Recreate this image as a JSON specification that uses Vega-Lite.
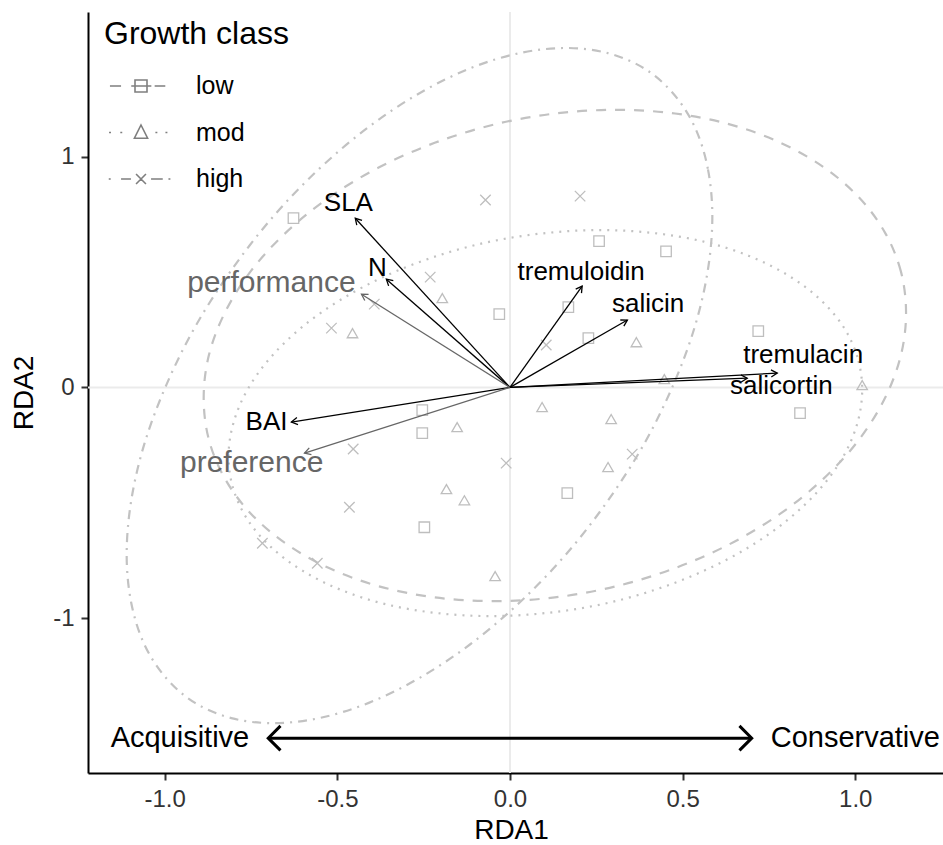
{
  "$schema": "https://vega.github.io/schema/vega-lite/v6.json",
  "width": 855,
  "height": 761,
  "autosize": {"type": "none"},
  "padding": {"left": 88, "top": 12, "right": 0, "bottom": 72},
  "background": "white",
  "config": {
    "font": "Liberation Sans",
    "view": {"stroke": null},
    "axis": {
      "grid": false,
      "domainColor": "black",
      "domainWidth": 2,
      "tickColor": "#333333",
      "tickWidth": 2,
      "tickSize": 7,
      "labelFontSize": 24,
      "labelColor": "#333333",
      "labelPadding": 7,
      "labelFlush": false,
      "titleFontSize": 28,
      "titleFontWeight": "normal",
      "titleColor": "black"
    }
  },
  "resolve": {"scale": {"shape": "independent"}, "legend": {"shape": "independent"}},
  "datasets": {
    "samples": [
      {"growth": "low", "x": -0.627, "y": 0.734},
      {"growth": "low", "x": -0.031, "y": 0.318},
      {"growth": "low", "x": -0.254, "y": -0.098},
      {"growth": "low", "x": -0.254, "y": -0.198},
      {"growth": "low", "x": -0.248, "y": -0.606},
      {"growth": "low", "x": 0.258, "y": 0.634},
      {"growth": "low", "x": 0.452, "y": 0.59},
      {"growth": "low", "x": 0.169, "y": 0.348},
      {"growth": "low", "x": 0.227, "y": 0.214},
      {"growth": "low", "x": 0.719, "y": 0.244},
      {"growth": "low", "x": 0.84, "y": -0.111},
      {"growth": "low", "x": 0.166, "y": -0.458},
      {"growth": "mod", "x": -0.196, "y": 0.387},
      {"growth": "mod", "x": -0.456, "y": 0.235},
      {"growth": "mod", "x": -0.153, "y": -0.172},
      {"growth": "mod", "x": -0.184, "y": -0.441},
      {"growth": "mod", "x": -0.132, "y": -0.489},
      {"growth": "mod", "x": -0.043, "y": -0.818},
      {"growth": "mod", "x": 0.366, "y": 0.196},
      {"growth": "mod", "x": 0.447, "y": 0.036},
      {"growth": "mod", "x": 1.02, "y": 0.01},
      {"growth": "mod", "x": 0.093, "y": -0.085},
      {"growth": "mod", "x": 0.293, "y": -0.137},
      {"growth": "mod", "x": 0.284, "y": -0.345},
      {"growth": "high", "x": -0.071, "y": 0.812},
      {"growth": "high", "x": -0.231, "y": 0.478},
      {"growth": "high", "x": -0.393, "y": 0.361},
      {"growth": "high", "x": -0.517, "y": 0.257},
      {"growth": "high", "x": -0.454, "y": -0.267},
      {"growth": "high", "x": -0.011, "y": -0.328},
      {"growth": "high", "x": -0.465, "y": -0.519},
      {"growth": "high", "x": -0.717, "y": -0.675},
      {"growth": "high", "x": -0.558, "y": -0.762},
      {"growth": "high", "x": 0.203, "y": 0.829},
      {"growth": "high", "x": 0.105, "y": 0.184},
      {"growth": "high", "x": 0.354, "y": -0.289}
    ],
    "ellipses": [
      {"growth": "low", "i": 0, "x": 1.147, "y": 0.323},
      {"growth": "low", "i": 1, "x": 1.132, "y": 0.503},
      {"growth": "low", "i": 2, "x": 1.086, "y": 0.671},
      {"growth": "low", "i": 3, "x": 1.011, "y": 0.823},
      {"growth": "low", "i": 4, "x": 0.909, "y": 0.954},
      {"growth": "low", "i": 5, "x": 0.784, "y": 1.06},
      {"growth": "low", "i": 6, "x": 0.639, "y": 1.139},
      {"growth": "low", "i": 7, "x": 0.478, "y": 1.187},
      {"growth": "low", "i": 8, "x": 0.307, "y": 1.203},
      {"growth": "low", "i": 9, "x": 0.13, "y": 1.187},
      {"growth": "low", "i": 10, "x": -0.047, "y": 1.139},
      {"growth": "low", "i": 11, "x": -0.218, "y": 1.06},
      {"growth": "low", "i": 12, "x": -0.379, "y": 0.954},
      {"growth": "low", "i": 13, "x": -0.524, "y": 0.823},
      {"growth": "low", "i": 14, "x": -0.649, "y": 0.671},
      {"growth": "low", "i": 15, "x": -0.751, "y": 0.503},
      {"growth": "low", "i": 16, "x": -0.826, "y": 0.323},
      {"growth": "low", "i": 17, "x": -0.872, "y": 0.139},
      {"growth": "low", "i": 18, "x": -0.887, "y": -0.046},
      {"growth": "low", "i": 19, "x": -0.872, "y": -0.226},
      {"growth": "low", "i": 20, "x": -0.826, "y": -0.394},
      {"growth": "low", "i": 21, "x": -0.751, "y": -0.546},
      {"growth": "low", "i": 22, "x": -0.649, "y": -0.677},
      {"growth": "low", "i": 23, "x": -0.524, "y": -0.783},
      {"growth": "low", "i": 24, "x": -0.379, "y": -0.862},
      {"growth": "low", "i": 25, "x": -0.218, "y": -0.91},
      {"growth": "low", "i": 26, "x": -0.047, "y": -0.926},
      {"growth": "low", "i": 27, "x": 0.13, "y": -0.91},
      {"growth": "low", "i": 28, "x": 0.307, "y": -0.862},
      {"growth": "low", "i": 29, "x": 0.478, "y": -0.783},
      {"growth": "low", "i": 30, "x": 0.639, "y": -0.677},
      {"growth": "low", "i": 31, "x": 0.784, "y": -0.546},
      {"growth": "low", "i": 32, "x": 0.909, "y": -0.394},
      {"growth": "low", "i": 33, "x": 1.011, "y": -0.226},
      {"growth": "low", "i": 34, "x": 1.086, "y": -0.046},
      {"growth": "low", "i": 35, "x": 1.132, "y": 0.139},
      {"growth": "mod", "i": 0, "x": 1.02, "y": -0.009},
      {"growth": "mod", "i": 1, "x": 1.006, "y": 0.132},
      {"growth": "mod", "i": 2, "x": 0.965, "y": 0.264},
      {"growth": "mod", "i": 3, "x": 0.897, "y": 0.383},
      {"growth": "mod", "i": 4, "x": 0.805, "y": 0.486},
      {"growth": "mod", "i": 5, "x": 0.692, "y": 0.57},
      {"growth": "mod", "i": 6, "x": 0.561, "y": 0.632},
      {"growth": "mod", "i": 7, "x": 0.416, "y": 0.669},
      {"growth": "mod", "i": 8, "x": 0.262, "y": 0.682},
      {"growth": "mod", "i": 9, "x": 0.103, "y": 0.669},
      {"growth": "mod", "i": 10, "x": -0.057, "y": 0.632},
      {"growth": "mod", "i": 11, "x": -0.211, "y": 0.57},
      {"growth": "mod", "i": 12, "x": -0.356, "y": 0.486},
      {"growth": "mod", "i": 13, "x": -0.487, "y": 0.383},
      {"growth": "mod", "i": 14, "x": -0.6, "y": 0.264},
      {"growth": "mod", "i": 15, "x": -0.692, "y": 0.132},
      {"growth": "mod", "i": 16, "x": -0.76, "y": -0.009},
      {"growth": "mod", "i": 17, "x": -0.801, "y": -0.155},
      {"growth": "mod", "i": 18, "x": -0.815, "y": -0.3},
      {"growth": "mod", "i": 19, "x": -0.801, "y": -0.441},
      {"growth": "mod", "i": 20, "x": -0.76, "y": -0.573},
      {"growth": "mod", "i": 21, "x": -0.692, "y": -0.692},
      {"growth": "mod", "i": 22, "x": -0.6, "y": -0.795},
      {"growth": "mod", "i": 23, "x": -0.487, "y": -0.879},
      {"growth": "mod", "i": 24, "x": -0.356, "y": -0.941},
      {"growth": "mod", "i": 25, "x": -0.211, "y": -0.978},
      {"growth": "mod", "i": 26, "x": -0.057, "y": -0.991},
      {"growth": "mod", "i": 27, "x": 0.103, "y": -0.978},
      {"growth": "mod", "i": 28, "x": 0.262, "y": -0.941},
      {"growth": "mod", "i": 29, "x": 0.416, "y": -0.879},
      {"growth": "mod", "i": 30, "x": 0.561, "y": -0.795},
      {"growth": "mod", "i": 31, "x": 0.692, "y": -0.692},
      {"growth": "mod", "i": 32, "x": 0.805, "y": -0.573},
      {"growth": "mod", "i": 33, "x": 0.897, "y": -0.441},
      {"growth": "mod", "i": 34, "x": 0.965, "y": -0.3},
      {"growth": "mod", "i": 35, "x": 1.006, "y": -0.155},
      {"growth": "high", "i": 0, "x": 0.586, "y": 0.74},
      {"growth": "high", "i": 1, "x": 0.573, "y": 0.948},
      {"growth": "high", "i": 2, "x": 0.535, "y": 1.129},
      {"growth": "high", "i": 3, "x": 0.472, "y": 1.275},
      {"growth": "high", "i": 4, "x": 0.388, "y": 1.383},
      {"growth": "high", "i": 5, "x": 0.283, "y": 1.449},
      {"growth": "high", "i": 6, "x": 0.162, "y": 1.471},
      {"growth": "high", "i": 7, "x": 0.028, "y": 1.449},
      {"growth": "high", "i": 8, "x": -0.115, "y": 1.383},
      {"growth": "high", "i": 9, "x": -0.262, "y": 1.275},
      {"growth": "high", "i": 10, "x": -0.409, "y": 1.129},
      {"growth": "high", "i": 11, "x": -0.552, "y": 0.948},
      {"growth": "high", "i": 12, "x": -0.686, "y": 0.74},
      {"growth": "high", "i": 13, "x": -0.807, "y": 0.508},
      {"growth": "high", "i": 14, "x": -0.912, "y": 0.262},
      {"growth": "high", "i": 15, "x": -0.996, "y": 0.008},
      {"growth": "high", "i": 16, "x": -1.059, "y": -0.246},
      {"growth": "high", "i": 17, "x": -1.097, "y": -0.492},
      {"growth": "high", "i": 18, "x": -1.11, "y": -0.724},
      {"growth": "high", "i": 19, "x": -1.097, "y": -0.932},
      {"growth": "high", "i": 20, "x": -1.059, "y": -1.113},
      {"growth": "high", "i": 21, "x": -0.996, "y": -1.259},
      {"growth": "high", "i": 22, "x": -0.912, "y": -1.367},
      {"growth": "high", "i": 23, "x": -0.807, "y": -1.433},
      {"growth": "high", "i": 24, "x": -0.686, "y": -1.455},
      {"growth": "high", "i": 25, "x": -0.552, "y": -1.433},
      {"growth": "high", "i": 26, "x": -0.409, "y": -1.367},
      {"growth": "high", "i": 27, "x": -0.262, "y": -1.259},
      {"growth": "high", "i": 28, "x": -0.115, "y": -1.113},
      {"growth": "high", "i": 29, "x": 0.028, "y": -0.932},
      {"growth": "high", "i": 30, "x": 0.162, "y": -0.724},
      {"growth": "high", "i": 31, "x": 0.283, "y": -0.492},
      {"growth": "high", "i": 32, "x": 0.388, "y": -0.246},
      {"growth": "high", "i": 33, "x": 0.472, "y": 0.008},
      {"growth": "high", "i": 34, "x": 0.535, "y": 0.262},
      {"growth": "high", "i": 35, "x": 0.573, "y": 0.508}
    ],
    "vectors": [
      {"name": "SLA", "kind": "trait", "x": -0.448, "y": 0.733, "lx": -0.468, "ly": 0.799},
      {"name": "N", "kind": "trait", "x": -0.358, "y": 0.469, "lx": -0.384, "ly": 0.517},
      {"name": "performance", "kind": "response", "x": -0.43, "y": 0.404, "lx": -0.691, "ly": 0.452},
      {"name": "BAI", "kind": "trait", "x": -0.633, "y": -0.15, "lx": -0.705, "ly": -0.151},
      {"name": "preference", "kind": "response", "x": -0.595, "y": -0.285, "lx": -0.748, "ly": -0.328},
      {"name": "tremuloidin", "kind": "trait", "x": 0.209, "y": 0.439, "lx": 0.206, "ly": 0.5},
      {"name": "salicin", "kind": "trait", "x": 0.34, "y": 0.292, "lx": 0.4, "ly": 0.361},
      {"name": "tremulacin", "kind": "trait", "x": 0.774, "y": 0.062, "lx": 0.849, "ly": 0.141},
      {"name": "salicortin", "kind": "trait", "x": 0.687, "y": 0.04, "lx": 0.786, "ly": 0.007}
    ],
    "gradient": [
      {"x": -0.7, "x2": 0.7, "y": -1.52}
    ]
  },
  "encoding": {
    "x": {
      "field": "x",
      "type": "quantitative",
      "scale": {"domain": [-1.222, 1.254], "nice": false, "zero": false},
      "axis": {
        "title": "RDA1",
        "values": [-1, -0.5, 0, 0.5, 1],
        "format": ".1f",
        "labelExpr": "replace(datum.label, '\u2212', '-')",
        "titlePadding": 5,
        "titleX": 423
      }
    },
    "y": {
      "field": "y",
      "type": "quantitative",
      "scale": {"domain": [-1.671, 1.627], "nice": false, "zero": false},
      "axis": {
        "title": "RDA2",
        "values": [-1, 0, 1],
        "format": "d",
        "labelExpr": "replace(datum.label, '\u2212', '-')",
        "titlePadding": 14
      }
    }
  },
  "layer": [
    {
      "data": {"values": [{"v": 0}]},
      "mark": {"type": "rule", "color": "#EBEBEB", "strokeWidth": 2},
      "encoding": {
        "x": {"field": "v", "type": "quantitative"},
        "y": null
      }
    },
    {
      "data": {"values": [{"v": 0}]},
      "mark": {"type": "rule", "color": "#EBEBEB", "strokeWidth": 2},
      "encoding": {
        "y": {"field": "v", "type": "quantitative"},
        "x": null
      }
    },
    {
      "data": {"name": "ellipses"},
      "mark": {"type": "line", "interpolate": "cardinal-closed", "color": "#C2C2C2", "strokeWidth": 2.2},
      "encoding": {
        "detail": {"field": "growth"},
        "order": {"field": "i", "type": "quantitative"},
        "strokeDash": {
          "field": "growth",
          "type": "nominal",
          "scale": {"domain": ["low", "mod", "high"], "range": [[10, 9], [2, 6], [2, 6, 9, 6]]},
          "legend": null
        }
      }
    },
    {
      "data": {"name": "samples"},
      "mark": {"type": "point", "filled": false, "color": "#BEBEBE", "strokeWidth": 1.3, "size": 110, "opacity": 1},
      "encoding": {
        "shape": {
          "field": "growth",
          "type": "nominal",
          "scale": {"domain": ["low", "mod", "high"], "range": ["square", "triangle-up", "M-1,-1L1,1M-1,1L1,-1"]},
          "legend": null
        }
      }
    },
    {
      "data": {"name": "samples"},
      "transform": [{"filter": "datum.growth === 'none'"}],
      "mark": {"type": "point", "filled": false, "color": "#7F7F7F", "strokeWidth": 1.6, "size": 900, "opacity": 1},
      "encoding": {
        "shape": {
          "field": "growth",
          "type": "nominal",
          "scale": {
            "domain": ["low", "mod", "high"],
            "range": [
              "M-0.67,0H0.07M0.75,0H2.09M2.31,0H3.02M1,-0.4H1.8V0.4H1Z",
              "M-0.73,0H-0.6M0.02,0H0.15M2.36,0H2.49M3.03,0H3.16M1.4,-0.5L1.84,0.38H0.96Z",
              "M-0.75,0H-0.62M0.07,0H0.73M2.07,0H2.85M3.23,0H3.36M1.07,-0.33L1.73,0.33M1.07,0.33L1.73,-0.33"
            ]
          },
          "legend": {
            "title": "Growth class",
            "orient": "none",
            "legendX": 16,
            "legendY": 7,
            "direction": "vertical",
            "padding": 0,
            "titleFontSize": 32,
            "titleFontWeight": "normal",
            "titleColor": "black",
            "titleLimit": 400,
            "titlePadding": 19,
            "labelFontSize": 25,
            "labelColor": "black",
            "labelLimit": 200,
            "labelOffset": 60,
            "rowPadding": 17.5,
            "symbolSize": 900,
            "symbolStrokeWidth": 1.6,
            "symbolStrokeColor": "#7F7F7F",
            "symbolFillColor": "transparent"
          }
        }
      }
    },
    {
      "data": {"name": "vectors"},
      "mark": {"type": "rule", "strokeWidth": 1.3},
      "encoding": {
        "x": {"datum": 0, "type": "quantitative"},
        "y": {"datum": 0, "type": "quantitative"},
        "x2": {"field": "x"},
        "y2": {"field": "y"},
        "color": {
          "field": "kind",
          "type": "nominal",
          "scale": {"domain": ["trait", "response"], "range": ["#000000", "#666666"]},
          "legend": null
        }
      }
    },
    {
      "data": {"name": "vectors"},
      "mark": {
        "type": "point",
        "filled": false,
        "shape": "M-1,-0.58L0,0L-1,0.58",
        "size": 150,
        "strokeWidth": 1.3,
        "opacity": 1,
        "angle": {"expr": "atan2(scale('y', datum.y) - scale('y', 0), scale('x', datum.x) - scale('x', 0)) * 180 / PI"}
      },
      "encoding": {
        "color": {"field": "kind", "type": "nominal", "legend": null}
      }
    },
    {
      "data": {"name": "vectors"},
      "mark": {"type": "text", "align": "center", "baseline": "middle"},
      "encoding": {
        "x": {"field": "lx", "type": "quantitative"},
        "y": {"field": "ly", "type": "quantitative"},
        "text": {"field": "name"},
        "color": {"field": "kind", "type": "nominal", "legend": null},
        "size": {
          "field": "kind",
          "type": "nominal",
          "scale": {"domain": ["trait", "response"], "range": [26, 30]},
          "legend": null
        }
      }
    },
    {
      "data": {"name": "gradient"},
      "mark": {"type": "rule", "color": "black", "strokeWidth": 3},
      "encoding": {
        "x2": {"field": "x2"}
      }
    },
    {
      "data": {"name": "gradient"},
      "mark": {"type": "point", "filled": false, "color": "black", "strokeWidth": 3, "size": 600, "opacity": 1, "shape": "M1,-1L0,0L1,1"}
    },
    {
      "data": {"name": "gradient"},
      "mark": {"type": "point", "filled": false, "color": "black", "strokeWidth": 3, "size": 600, "opacity": 1, "shape": "M-1,-1L0,0L-1,1"},
      "encoding": {
        "x": {"field": "x2", "type": "quantitative"}
      }
    },
    {
      "data": {"values": [{"x": -0.755, "y": -1.52, "label": "Acquisitive"}]},
      "mark": {"type": "text", "align": "right", "baseline": "middle", "fontSize": 29, "color": "black"},
      "encoding": {"text": {"field": "label"}}
    },
    {
      "data": {"values": [{"x": 0.755, "y": -1.52, "label": "Conservative"}]},
      "mark": {"type": "text", "align": "left", "baseline": "middle", "fontSize": 29, "color": "black"},
      "encoding": {"text": {"field": "label"}}
    }
  ]
}
